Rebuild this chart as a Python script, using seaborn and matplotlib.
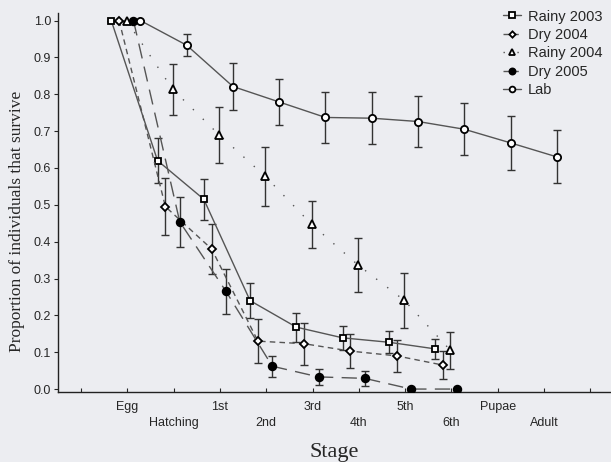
import numpy as np
import pandas as pd
import matplotlib
matplotlib.use("Agg")
import matplotlib.pyplot as plt
import seaborn as sns

# stages on the x axis
stages = ["Egg", "Hatching", "1st", "2nd", "3rd", "4th", "5th", "6th", "Pupae", "Adult"]

# proportion surviving and error bar half-widths
rainy2003 = [1.0, 0.62, 0.515, 0.24, 0.168, 0.139, 0.127, 0.109]
rainy2003_err = [0, 0.06, 0.055, 0.047, 0.039, 0.032, 0.03, 0.028]
dry2004 = [1.0, 0.495, 0.38, 0.13, 0.123, 0.103, 0.09, 0.065]
dry2004_err = [0, 0.077, 0.068, 0.06, 0.057, 0.047, 0.043, 0.039]
rainy2004 = [1.0, 0.813, 0.69, 0.577, 0.447, 0.337, 0.241, 0.105]
rainy2004_err = [0, 0.07, 0.076, 0.081, 0.064, 0.074, 0.074, 0.05]
dry2005 = [1.0, 0.454, 0.265, 0.062, 0.033, 0.029, 0.0, 0.0]
dry2005_err = [0, 0.068, 0.061, 0.029, 0.021, 0.02, 0, 0]
lab = [1.0, 0.933, 0.821, 0.779, 0.737, 0.735, 0.726, 0.705, 0.668, 0.63]
lab_err = [0, 0.03, 0.063, 0.062, 0.07, 0.07, 0.07, 0.07, 0.073, 0.072]

series = {
    "Rainy 2003": (rainy2003, rainy2003_err),
    "Dry 2004": (dry2004, dry2004_err),
    "Rainy 2004": (rainy2004, rainy2004_err),
    "Dry 2005": (dry2005, dry2005_err),
    "Lab": (lab, lab_err),
}

# small horizontal shift per group so error bars don't overlap
styles = {
    "Rainy 2003": dict(shift=-0.35, marker="s", ms=5, mfc="white", ls="-"),
    "Dry 2004": dict(shift=-0.18, marker="D", ms=4, mfc="white", ls=(0, (4, 3))),
    "Rainy 2004": dict(shift=-0.02, marker="^", ms=5.5, mfc="white", ls=(0, (1, 9))),
    "Dry 2005": dict(shift=0.13, marker="o", ms=5.5, mfc="black", ls=(0, (11, 6))),
    "Lab": dict(shift=0.28, marker="o", ms=5.2, mfc="white", ls="-"),
}

bg = "#ecedf1"
serif = ["Liberation Serif", "DejaVu Serif"]
sns.set_style("ticks")
plt.rcParams["font.family"] = ["Liberation Sans", "DejaVu Sans"]

fig = plt.figure(figsize=(6.11, 4.62), dpi=100, facecolor=bg)
ax = fig.add_axes([0.095, 0.1515, 0.905, 0.82])
ax.set_facecolor(bg)

for name, (vals, errs) in series.items():
    st = styles[name]
    df = pd.DataFrame({"x": np.arange(len(vals)) + st["shift"], "y": vals})
    ax.errorbar(df["x"], df["y"], yerr=errs, fmt="none", ecolor="#333333",
                elinewidth=1.0, capsize=3, capthick=1.0, zorder=2)
    sns.lineplot(data=df, x="x", y="y", ax=ax, color="#555555", linewidth=1.0,
                 linestyle=st["ls"], marker=st["marker"], markersize=st["ms"],
                 markerfacecolor=st["mfc"], markeredgecolor="black",
                 markeredgewidth=1.3, errorbar=None, zorder=3, label=name)

ax.legend(loc="upper left", bbox_to_anchor=(0.812, 0.995), bbox_transform=fig.transFigure,
          frameon=False, fontsize=10.5, handlelength=1.2, handletextpad=0.5,
          borderpad=0, labelspacing=0.3, markerscale=0.8)

ax.set_xlim(-1.5, 10.45)
ax.set_ylim(-0.008, 1.02)
ax.set_xticks(np.arange(-1, 11))
ax.set_xticklabels([""] + stages + [""])
ax.set_yticks(np.arange(0, 1.01, 0.1))
ax.set_yticklabels([f"{v:.1f}" for v in np.arange(0, 1.01, 0.1)])
ax.tick_params(axis="x", direction="in", length=3, width=0.8, labelsize=9)
ax.tick_params(axis="y", direction="out", length=3, width=0.8, labelsize=9, pad=2)
for i, tick in enumerate(ax.xaxis.get_major_ticks()):
    # alternate rows: Egg/1st/3rd... on top, Hatching/2nd/4th... below
    tick.set_pad(6.5 if i % 2 == 1 else 18)

for s in ["top", "right"]:
    ax.spines[s].set_visible(False)
for s in ["left", "bottom"]:
    ax.spines[s].set_linewidth(1.0)
    ax.spines[s].set_color("#222222")

ax.set_xlabel("Stage", family=serif, fontsize=16)
ax.xaxis.set_label_coords(0.5, -0.135)
ax.set_ylabel("Proportion of individuals that survive", family=serif, fontsize=12.5)
ax.yaxis.set_label_coords(-0.06, 0.45)

fig.savefig("out.png", dpi=100, facecolor=bg)
